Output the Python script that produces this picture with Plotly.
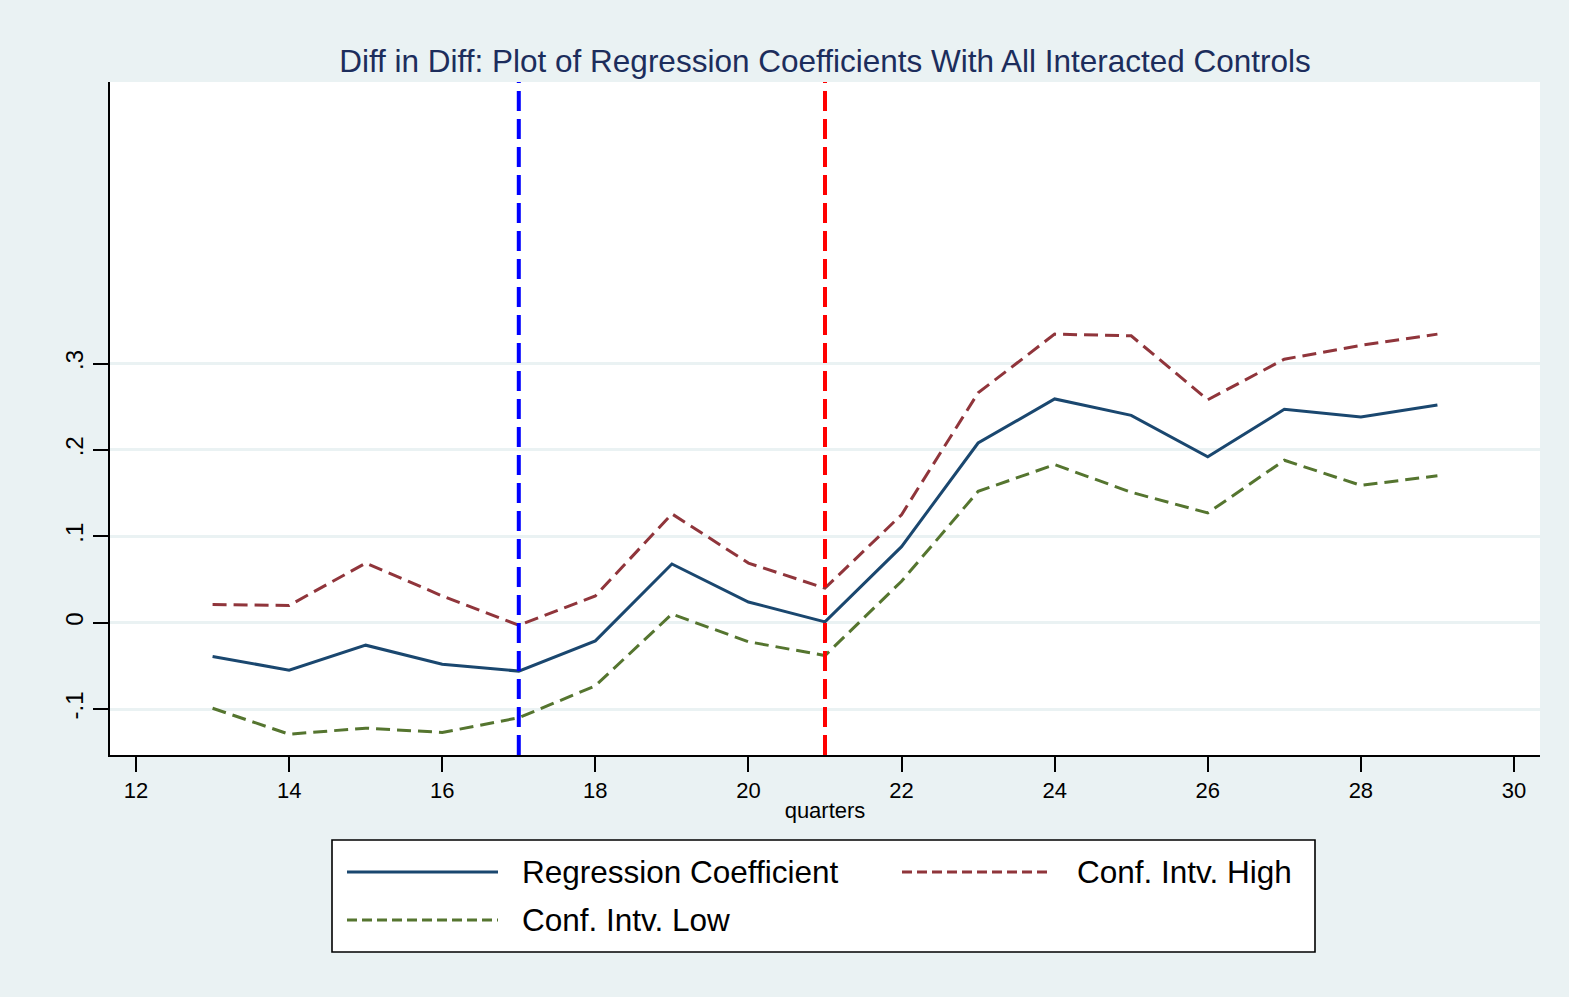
import plotly.graph_objects as go

# Quarter index and estimated coefficients with confidence bounds
quarters = [13, 14, 15, 16, 17, 18, 19, 20, 21, 22, 23, 24, 25, 26, 27, 28, 29]
coef = [-0.039, -0.055, -0.026, -0.048, -0.056, -0.021, 0.068, 0.024, 0.001,
        0.088, 0.208, 0.259, 0.240, 0.192, 0.247, 0.238, 0.252]
ci_high = [0.021, 0.020, 0.069, 0.031, -0.003, 0.031, 0.126, 0.069, 0.040,
           0.125, 0.266, 0.334, 0.332, 0.258, 0.305, 0.321, 0.334]
ci_low = [-0.099, -0.129, -0.122, -0.127, -0.110, -0.073, 0.010, -0.022, -0.038,
          0.048, 0.152, 0.183, 0.151, 0.127, 0.188, 0.159, 0.170]

# Event markers (quarters)
event_lines = [(17, "#0000FF"), (21, "#FF0000")]

x_ticks = [12, 14, 16, 18, 20, 22, 24, 26, 28, 30]
y_ticks = [-0.1, 0, 0.1, 0.2, 0.3]
y_tick_text = ["-.1", "0", ".1", ".2", ".3"]

FONT = "Arial, Liberation Sans, sans-serif"
BG = "#EAF2F3"
W, H = 1569, 997
L, R, T, B = 110, 29, 82, 242
PW, PH = W - L - R, H - T - B

series = [
    ("Regression Coefficient", coef, "#1A476F", "solid"),
    ("Conf. Intv. High", ci_high, "#90353B", "14px,7px"),
    ("Conf. Intv. Low", ci_low, "#55752F", "14px,7px"),
]

fig = go.Figure()
for name, vals, color, dash in series:
    fig.add_trace(go.Scatter(
        x=quarters, y=vals, name=name, mode="lines",
        line=dict(color=color, width=3, dash=dash),
        showlegend=False,
    ))

for q, color in event_lines:
    fig.add_vline(x=q, line=dict(color=color, width=4, dash="20px,8px"))


def px_x(px):
    return (px - L) / PW


def px_y(py):
    return (H - B - py) / PH


shapes = []
annotations = []

# white outer border strips (top and left)
shapes.append(dict(type="rect", xref="paper", yref="paper", layer="below",
                   x0=px_x(0), x1=px_x(W), y0=px_y(6), y1=px_y(0),
                   fillcolor="white", line=dict(width=0)))
shapes.append(dict(type="rect", xref="paper", yref="paper", layer="below",
                   x0=px_x(0), x1=px_x(10), y0=px_y(H), y1=px_y(0),
                   fillcolor="white", line=dict(width=0)))

# legend box
shapes.append(dict(type="rect", xref="paper", yref="paper",
                   x0=px_x(332), x1=px_x(1315), y0=px_y(952), y1=px_y(840),
                   fillcolor="white", line=dict(color="black", width=1.6)))

legend_slots = [(347, 498, 520, 872), (902, 1051, 1075, 872), (347, 498, 520, 920)]
for (name, _, color, dash), (sx0, sx1, tx, ty) in zip(series, legend_slots):
    shapes.append(dict(type="line", xref="paper", yref="paper",
                       x0=px_x(sx0), x1=px_x(sx1), y0=px_y(ty), y1=px_y(ty),
                       line=dict(color=color, width=3,
                                 dash="solid" if dash == "solid" else "10px,5px")))
    annotations.append(dict(text=name, xref="paper", yref="paper",
                            x=px_x(tx), y=px_y(ty), xanchor="left", yanchor="middle",
                            showarrow=False, font=dict(family=FONT, size=31.5, color="black")))

fig.update_layout(
    width=W, height=H,
    margin=dict(l=L, r=R, t=T, b=B, pad=0),
    paper_bgcolor=BG,
    plot_bgcolor="white",
    font=dict(family=FONT, color="black"),
    title=dict(
        text="Diff in Diff: Plot of Regression Coefficients With All Interacted Controls",
        x=0.5, xref="paper", y=1 - 61 / H, yref="container",
        xanchor="center", yanchor="middle",
        font=dict(family=FONT, size=31.5, color="#1C2D5C"),
    ),
    shapes=shapes,
    annotations=annotations,
    showlegend=False,
)

fig.update_xaxes(
    range=[11.66, 30.34],
    tickvals=x_ticks,
    ticks="outside", ticklen=15, tickwidth=2, tickcolor="black",
    showline=True, linecolor="black", linewidth=2,
    showgrid=False, zeroline=False,
    tickfont=dict(family=FONT, size=22, color="black"),
    title=dict(text="quarters", font=dict(family=FONT, size=22, color="black"), standoff=0),
)
fig.update_yaxes(
    range=[-0.1531, 0.6258],
    tickvals=y_ticks, ticktext=y_tick_text, tickangle=-90,
    ticks="outside", ticklen=15, tickwidth=2, tickcolor="black",
    showline=True, linecolor="black", linewidth=2,
    showgrid=True, gridcolor=BG, gridwidth=2.5,
    zeroline=False,
    tickfont=dict(family=FONT, size=24, color="black"),
)

fig.write_html("out.html")
